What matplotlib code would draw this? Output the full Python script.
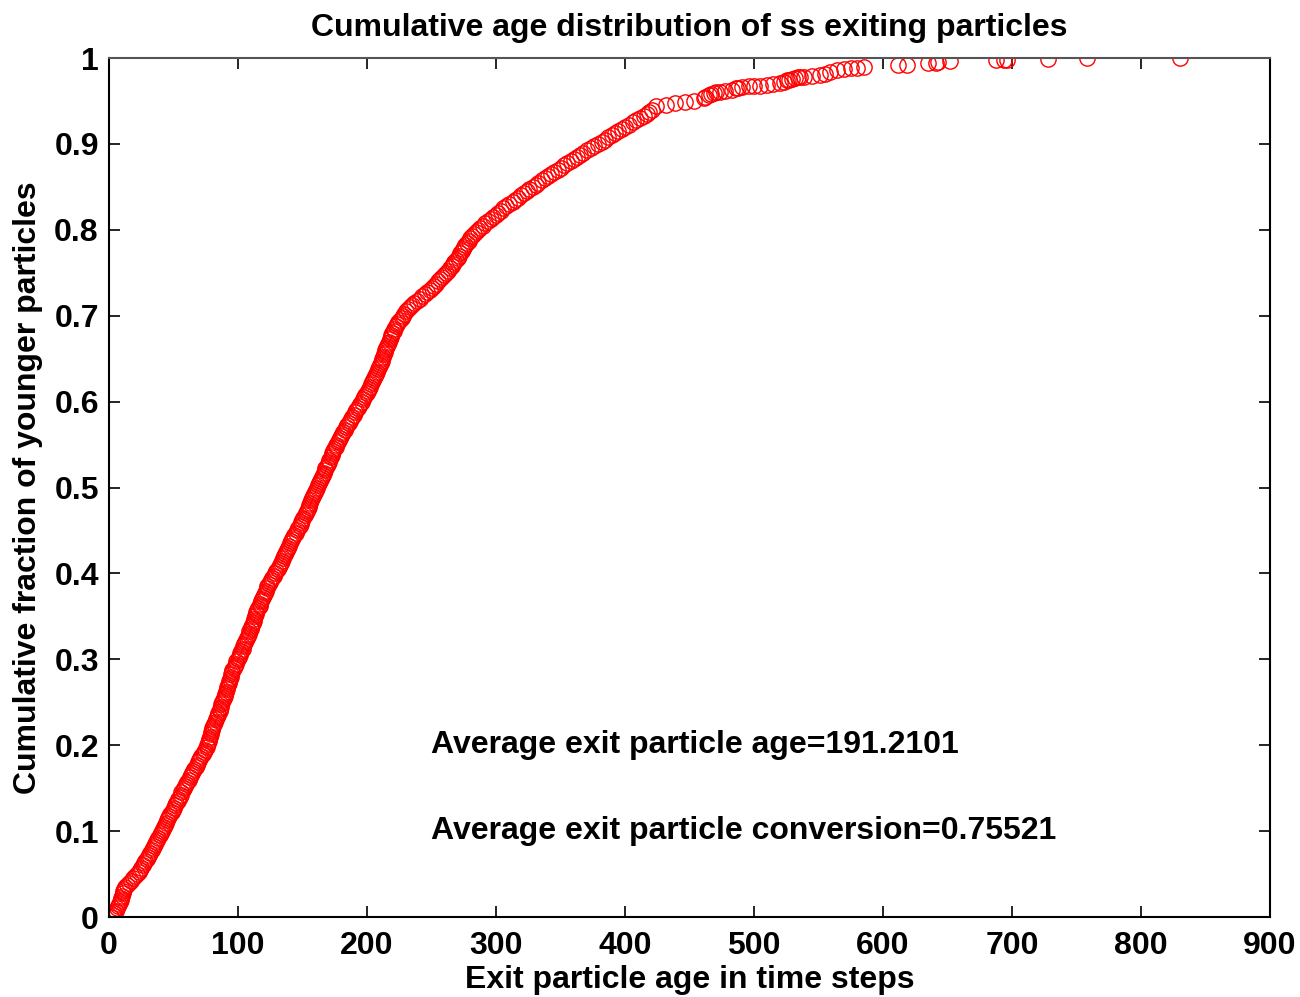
import numpy as np
import matplotlib
matplotlib.use("Agg")
import matplotlib.pyplot as plt

plt.rcParams['font.family'] = ['Liberation Sans', 'DejaVu Sans']
plt.rcParams['font.weight'] = 'bold'

# cumulative fraction levels for the dense part of the curve
frac_dense = np.round(np.arange(0, 0.9401, 0.005), 4)
# exit ages at each of those levels
age_dense = [
    2, 4.5, 6.5, 8, 9.5, 10.5, 11.5, 13, 16, 19,
    22, 24.5, 26.5, 28.5, 30.5, 32.5, 34.5, 36, 37.5, 39.5,
    41.5, 43, 44.5, 46, 48, 50, 51.5, 53.5, 55, 56.5,
    58.5, 60, 62, 64, 65.5, 67.5, 69.5, 71, 73, 75,
    76.5, 77.5, 78.5, 79.5, 80.5, 82, 83, 84.5, 86, 87,
    88, 89.5, 90.5, 91.5, 92.5, 93.5, 94.5, 95.5, 97, 98.5,
    100, 101.5, 103, 104.5, 106, 107, 108.5, 110, 111, 112.5,
    113.5, 114.5, 116, 117.5, 119, 120.5, 122, 123, 125, 127,
    129, 131, 132.5, 134.5, 136, 137.5, 139, 140.5, 142, 144,
    146, 148, 149.5, 151, 153, 154.5, 155.5, 157, 158.5, 160,
    161.5, 163, 164.5, 166, 167.5, 169, 170.5, 172, 173.5, 175,
    176.5, 178.5, 180, 182, 184, 186, 188, 190, 192, 194,
    196, 198, 200, 201.5, 203.5, 205, 206.5, 208, 209.5, 211,
    212, 213.5, 214.5, 216, 217, 218.5, 220, 221.5, 223.5, 225.5,
    228, 230.5, 233.5, 237, 241, 245, 249, 252.5, 255.5, 258.5,
    261.5, 264.5, 267, 269.5, 271.5, 273.5, 275.5, 277.5, 280, 283,
    286.5, 290, 294, 298, 302, 306, 310.5, 315, 319.5, 324,
    328.5, 333, 338, 343, 348, 353, 358, 363, 368, 373.5,
    379, 384.5, 390, 395, 400, 406, 412, 417, 421,
]

# exit ages at the levels halfway between (0.0025, 0.0075, ...)
frac_between = np.round(np.arange(0.0025, 0.9376, 0.005), 4)
age_between = [
    3.5, 5.5, 7, 9, 10, 11, 12, 14.5, 17.5, 20.5,
    23.5, 25.5, 27.5, 29.5, 31.5, 33.5, 35, 37, 38.5, 40.5,
    42, 44, 45, 47, 49, 51, 52.5, 54, 56, 57.5,
    59, 61, 63, 64.5, 66.5, 68.5, 70, 72, 74, 76,
    77, 78, 79, 80, 81, 82.5, 84, 85, 86.5, 87.5,
    89, 90, 91, 92, 93, 94, 95, 96, 98, 99,
    101, 102, 104, 105, 106.5, 108, 109, 110.5, 112, 113,
    114, 115, 117, 118, 120, 121, 122.5, 124, 126, 128,
    130, 132, 133.5, 135, 137, 138, 140, 141, 143, 145,
    147, 149, 150, 152, 154, 155, 156, 158, 159, 161,
    162, 164, 165, 167, 168, 170, 171, 173, 174, 176,
    177.5, 179, 181, 183, 185, 187, 189, 191, 193, 195,
    197, 199, 201, 202.5, 204, 206, 207, 209, 210, 211.5,
    213, 214, 215, 216.5, 218, 219, 221, 222.5, 224.5, 227,
    229, 232, 235, 239, 243, 247, 251, 254, 257, 260,
    263, 266, 268, 270.5, 272.5, 274.5, 276.5, 279, 281.5, 285,
    288, 292, 296, 300, 304, 308, 313, 317, 322, 326,
    331, 335.5, 340.5, 345.5, 350.5, 355.5, 360.5, 365.5, 371, 376,
    382, 387, 392.5, 397.5, 403, 409, 414.5, 419,
]

# sparser upper part and the long tail
age_upper = [424, 431.7, 439, 447, 453.6, 461, 462, 465, 467, 469,
             471, 474, 478, 483, 486, 488, 491, 496, 500, 505,
             510, 515, 520, 523, 525.8, 527, 529.6, 532, 534, 536,
             538.7, 545, 551.6, 555.5, 559, 564.4, 569.6, 575, 580, 585,
             612, 618.6, 635, 641, 643, 651.6, 688, 694, 696, 728,
             758, 830]
frac_upper = [0.9437, 0.9456, 0.9476, 0.9484, 0.9496, 0.9534, 0.955, 0.957, 0.958, 0.959,
              0.960, 0.961, 0.962, 0.963, 0.965, 0.9655, 0.966, 0.967, 0.967, 0.9678,
              0.969, 0.970, 0.971, 0.9717, 0.974, 0.9745, 0.9755, 0.9765, 0.9775, 0.9778,
              0.978, 0.9794, 0.9806, 0.9817, 0.9837, 0.9864, 0.987, 0.988, 0.9883, 0.9895,
              0.9915, 0.9915, 0.9945, 0.9945, 0.995, 0.996, 0.9977, 0.998, 0.998, 0.999,
              0.9995, 1.0]

ages = np.concatenate([age_dense, age_between, age_upper])
fracs = np.concatenate([frac_dense, frac_between, frac_upper])
order = np.argsort(fracs, kind='stable')
ages, fracs = ages[order], fracs[order]

avg_age = 191.2101
avg_conv = 0.75521

fig = plt.figure(figsize=(13, 9.97), dpi=100)
ax = fig.add_axes([0.0835, 0.0802, 0.8935, 0.8616])

ax.plot(ages, fracs, 'o', mfc='none', mec='red', ms=11, mew=1.0)

ax.set_xlim(0, 900)
ax.set_ylim(0, 1)
ax.set_xticks(np.arange(0, 901, 100))
ax.set_yticks(np.arange(0, 1.01, 0.1))
ax.set_yticklabels(['0', '0.1', '0.2', '0.3', '0.4', '0.5', '0.6', '0.7', '0.8', '0.9', '1'])
ax.tick_params(direction='in', length=8, width=1.2, labelsize=23,
               top=True, right=True)
ax.tick_params(axis='x', pad=10)
ax.tick_params(axis='y', pad=7)
for side in ['left', 'bottom', 'right']:
    ax.spines[side].set_linewidth(1.5)
ax.spines['top'].set_color('#555555')
ax.spines['top'].set_linewidth(1.5)

ax.set_title('Cumulative age distribution of ss exiting particles', fontsize=23, fontweight='bold', pad=16)
ax.set_xlabel('Exit particle age in time steps', fontsize=23, fontweight='bold', labelpad=3)
ax.set_ylabel('Cumulative fraction of younger particles', fontsize=23, fontweight='bold', labelpad=8)

ax.text(250, 0.2, 'Average exit particle age=' + str(avg_age), fontsize=23, fontweight='bold', va='center')
ax.text(250, 0.1, 'Average exit particle conversion=' + str(avg_conv), fontsize=23, fontweight='bold', va='center')

fig.savefig('out.png', dpi=100)
